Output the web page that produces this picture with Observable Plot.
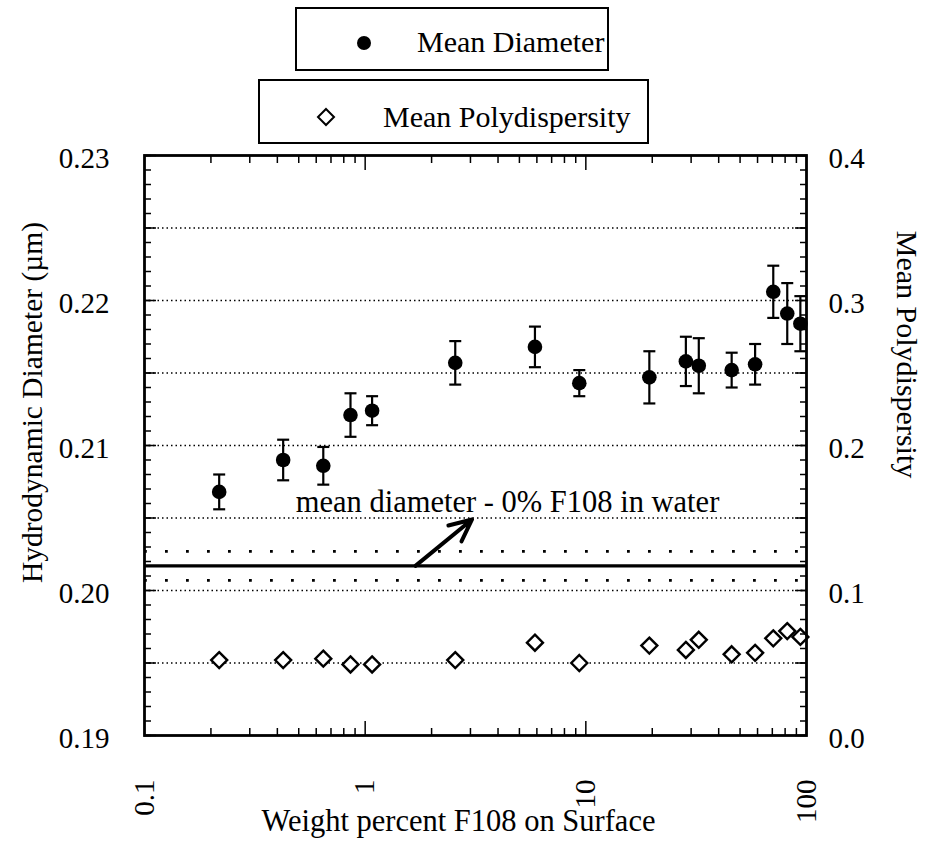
<!DOCTYPE html>
<html><head><meta charset="utf-8">
<script src="https://cdn.jsdelivr.net/npm/d3@7"></script>
<script src="https://cdn.jsdelivr.net/npm/@observablehq/plot@0.6"></script>
<style>
body{margin:0;background:#fff;font-family:"Liberation Serif","Times New Roman",serif;color:#000;}
#wrap{position:relative;width:925px;height:850px;overflow:hidden;}
#chart{position:absolute;left:0;top:0;}
#legend{position:absolute;left:0;top:0;width:925px;height:150px;z-index:2;}
.box{position:absolute;border:2px solid #000;box-sizing:border-box;background:#fff;}
.box svg{position:absolute;overflow:visible;}
.box span{position:absolute;font-size:30px;line-height:30px;white-space:nowrap;}
</style></head><body>
<div id="wrap">
  <div id="chart"></div>
  <div id="legend">
    <div class="box" style="left:295px;top:7px;width:314px;height:64px;">
      <svg style="left:58px;top:25px" width="18" height="18"><circle cx="9" cy="9" r="7" fill="#000"/></svg>
      <span style="left:120px;top:18px">Mean Diameter</span>
    </div>
    <div class="box" style="left:258px;top:79px;width:391px;height:65px;">
      <svg style="left:57px;top:27px" width="18" height="18"><path d="M9,1L17,9L9,17L1,9Z" fill="#fff" stroke="#000" stroke-width="2"/></svg>
      <span style="left:123px;top:21px">Mean Polydispersity</span>
    </div>
  </div>
</div>
<script>
// ---- data ----
const weightPct      = [0.218, 0.425, 0.646, 0.858, 1.075, 2.56, 5.88, 9.34, 19.4, 28.4, 32.5, 45.8, 58.5, 70.7, 81.8, 93.8];
const meanDiameter   = [0.2068, 0.2090, 0.2086, 0.2121, 0.2124, 0.2157, 0.2168, 0.2143, 0.2147, 0.2158, 0.2155, 0.2152, 0.2156, 0.2206, 0.2191, 0.2184];
const diameterErr    = [0.0012, 0.0014, 0.0013, 0.0015, 0.0010, 0.0015, 0.0014, 0.0009, 0.0018, 0.0017, 0.0019, 0.0012, 0.0014, 0.0018, 0.0021, 0.0019];
const polydispersity = [0.052, 0.052, 0.053, 0.049, 0.049, 0.052, 0.064, 0.050, 0.062, 0.059, 0.066, 0.056, 0.057, 0.067, 0.072, 0.068];
const waterMean = 0.2017;   // mean diameter, 0% F108 in water
const waterSd   = 0.0010;
const annotationText = "mean diameter - 0% F108 in water";
const annotationPos  = [{x: 0.485, y: 0.2061}];
const arrowPos       = [{x1: 1.69, y1: 0.2017, x2: 3.05, y2: 0.2049}];
const xTickLabels  = [0.1, 1, 10, 100];
const yTickLabels  = [0.19, 0.20, 0.21, 0.22, 0.23];
const polyTickLabels = [0.0, 0.1, 0.2, 0.3, 0.4];
const gridValues   = [0.195, 0.200, 0.205, 0.210, 0.215, 0.220, 0.225];

// secondary axis mapping: polydispersity 0..0.4 <-> diameter 0.19..0.23
const yMin = 0.19, yMax = 0.23, polyMax = 0.4;
const polyToY = p => yMin + p * (yMax - yMin) / polyMax;

const data = weightPct.map((w, i) => ({w, d: meanDiameter[i], e: diameterErr[i], p: polydispersity[i]}));

const yMinor = d3.range(190, 231).map(v => v / 1000);
const yMajor = d3.range(190, 231, 5).map(v => v / 1000);
const xMinor = [2,3,4,5,6,7,8,9].flatMap(k => [k/10, k, k*10]);
const xMajor = [1, 10];

const cap = {draw(ctx, size) { const r = Math.sqrt(size / Math.PI); ctx.moveTo(-r, 0); ctx.lineTo(r, 0); }};
const tickOpts = {fill: "none", label: null, stroke: "#000", strokeWidth: 1.5};

const chart = Plot.plot({
  width: 925, height: 850,
  marginTop: 155, marginBottom: 115, marginLeft: 144, marginRight: 119,
  style: {fontFamily: "Liberation Serif, Times New Roman, serif", fontSize: "29px", color: "#000", background: "#fff", overflow: "visible"},
  x: {type: "log", domain: [0.1, 100], axis: null},
  y: {domain: [yMin, yMax], axis: null},
  marks: [
    Plot.ruleY(gridValues, {stroke: "#000", strokeWidth: 1.4, strokeDasharray: "1.5,3"}),
    Plot.ruleY([waterMean - waterSd, waterMean + waterSd], {stroke: "#000", strokeWidth: 2.8, strokeDasharray: "2.8,18.2"}),
    Plot.ruleY([waterMean], {stroke: "#000", strokeWidth: 3.2}),
    Plot.ruleX(data, {x: "w", y1: d => d.d - d.e, y2: d => d.d + d.e, stroke: "#000", strokeWidth: 2.2}),
    Plot.dot(data, {x: "w", y: d => d.d + d.e, symbol: cap, r: 6, stroke: "#000", strokeWidth: 2.2}),
    Plot.dot(data, {x: "w", y: d => d.d - d.e, symbol: cap, r: 6, stroke: "#000", strokeWidth: 2.2}),
    Plot.dot(data, {x: "w", y: "d", r: 7.3, fill: "#000"}),
    Plot.dot(data, {x: "w", y: d => polyToY(d.p), symbol: "diamond2", r: 7.2, stroke: "#000", strokeWidth: 2.4, fill: "#fff"}),
    Plot.arrow(arrowPos, {x1: "x1", y1: "y1", x2: "x2", y2: "y2", stroke: "#000", strokeWidth: 4, headLength: 17, headAngle: 50}),
    Plot.text(annotationPos, {x: "x", y: "y", text: () => annotationText, textAnchor: "start", fontSize: 30.5, fill: "#000"}),
    // ticks
    Plot.axisY(yMinor, {anchor: "left", tickSize: -7, ...tickOpts}),
    Plot.axisY(yMajor, {anchor: "left", tickSize: -12, ...tickOpts}),
    Plot.axisY(yMinor, {anchor: "right", tickSize: -7, ...tickOpts}),
    Plot.axisY(yMajor, {anchor: "right", tickSize: -12, ...tickOpts}),
    Plot.axisX(xMinor, {anchor: "bottom", tickSize: -7, ...tickOpts}),
    Plot.axisX(xMajor, {anchor: "bottom", tickSize: -14, ...tickOpts}),
    Plot.axisX(xMinor, {anchor: "top", tickSize: -7, ...tickOpts}),
    Plot.axisX(xMajor, {anchor: "top", tickSize: -14, ...tickOpts}),
    // tick labels
    Plot.axisY(yTickLabels, {anchor: "left", tickSize: 0, tickPadding: 35, dy: 3, tickFormat: d => d.toFixed(2), label: null, fontSize: 29, fill: "#000"}),
    Plot.axisY(polyTickLabels.map(polyToY), {anchor: "right", tickSize: 0, tickPadding: 22, dy: 3, tickFormat: (d, i) => polyTickLabels[i].toFixed(1), label: null, fontSize: 29, fill: "#000"}),
    Plot.axisX(xTickLabels, {anchor: "bottom", tickSize: 0, tickPadding: 44, tickRotate: -90, tickFormat: d => String(d), label: null, fontSize: 29, fill: "#000"}),
    // axis titles
    Plot.text(["Hydrodynamic Diameter (µm)"], {frameAnchor: "left", textAnchor: "middle", dx: -112, dy: -43, rotate: -90, fontSize: 29.5, fill: "#000"}),
    Plot.text(["Mean Polydispersity"], {frameAnchor: "right", textAnchor: "middle", dx: 100, dy: -91, rotate: 90, fontSize: 30, fill: "#000"}),
    Plot.text(["Weight percent F108 on Surface"], {frameAnchor: "bottom", lineAnchor: "middle", dx: -17, dy: 86, fontSize: 30.5, fill: "#000"}),
    Plot.frame({stroke: "#000", strokeWidth: 2.8})
  ]
});
document.getElementById("chart").appendChild(chart);
</script>
</body></html>
